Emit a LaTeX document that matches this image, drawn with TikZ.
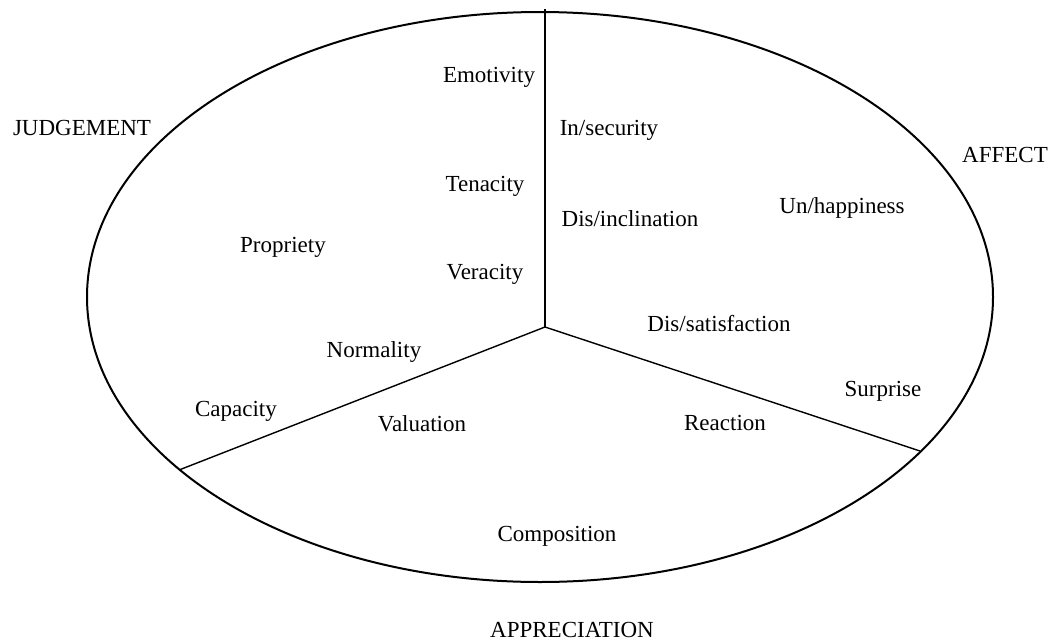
\documentclass[tikz,border=0pt]{standalone}
\usepackage{fontspec}
\setmainfont{Liberation Serif}
\begin{document}
\begin{tikzpicture}[x=0.5pt,y=-0.5pt,
  lbl/.style={anchor=base,inner sep=0pt,font=\fontsize{11.5}{13}\selectfont},
  rim/.style={line width=1pt},
  spoke/.style={line width=0.7pt}]
\useasboundingbox (0,0) rectangle (1055,643);
\coordinate (c) at (545,327);
\coordinate (top) at (545,9);
\coordinate (rt) at (920,451);
\coordinate (lt) at (179,470);
\draw[rim] (540,297) ellipse [x radius=226.5pt, y radius=142.5pt];
\draw[spoke] (c) -- (top);
\draw[spoke] (c) -- (rt);
\draw[spoke] (c) -- (lt);
\node[lbl] (emo) at (489,82) {Emotivity};
\node[lbl] (jud) at (82,135) {JUDGEMENT};
\node[lbl] (ins) at (609,135) {In/security};
\node[lbl] (aff) at (1005,162) {AFFECT};
\node[lbl] (ten) at (485,191) {Tenacity};
\node[lbl] (unh) at (842,213) {Un/happiness};
\node[lbl] (dis) at (630,226) {Dis/inclination};
\node[lbl] (pro) at (283,252) {Propriety};
\node[lbl] (ver) at (485,279) {Veracity};
\node[lbl] (sat) at (719,331) {Dis/satisfaction};
\node[lbl] (nor) at (374,357) {Normality};
\node[lbl] (sur) at (883,396) {Surprise};
\node[lbl] (cap) at (236,416) {Capacity};
\node[lbl] (val) at (422,431) {Valuation};
\node[lbl] (rea) at (725,430) {Reaction};
\node[lbl] (com) at (557,541) {Composition};
\node[lbl] (app) at (572,637) {APPRECIATION};
\end{tikzpicture}
\end{document}
